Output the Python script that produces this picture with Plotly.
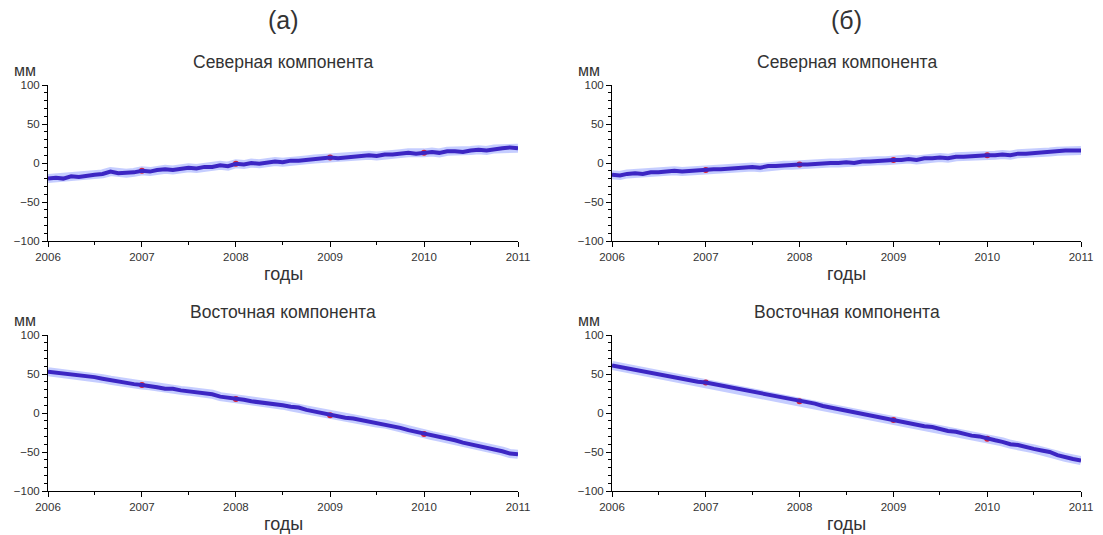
import pandas as pd
import plotly.graph_objects as go

# ---------------- data (monthly readings, mm) ----------------
dates = pd.date_range("2006-01-01", "2011-01-01", freq="MS")

north_a = [-20, -19, -20, -17, -18, -16, -15, -14, -11, -13, -13, -12,
           -10, -11, -9, -8, -9, -7, -6, -7, -5, -5, -3, -4,
           -1, -2, 0, -1, 1, 2, 1, 3, 3, 4, 5, 6,
           7, 6, 7, 8, 9, 10, 9, 11, 11, 12, 13, 12,
           13, 14, 13, 15, 15, 14, 16, 17, 16, 18, 19, 20,
           19]
north_b = [-15, -16, -14, -13, -14, -12, -12, -11, -10, -11, -10, -9,
           -9, -8, -8, -7, -6, -6, -5, -6, -4, -4, -3, -3,
           -2, -2, -1, -1, 0, 0, 1, 0, 2, 2, 3, 3,
           4, 4, 5, 4, 6, 6, 7, 6, 8, 8, 9, 9,
           10, 10, 11, 10, 12, 12, 13, 14, 14, 15, 16, 16,
           16]
east_a = [53, 52, 51, 50, 48, 47, 46, 44, 42, 40, 39, 37,
          36, 35, 33, 31, 31, 29, 28, 27, 25, 24, 21, 20,
          18, 17, 15, 14, 13, 11, 10, 8, 7, 4, 2, 0,
          -3, -4, -6, -7, -9, -11, -13, -14, -17, -19, -22, -24,
          -27, -29, -31, -33, -35, -38, -40, -42, -45, -47, -49, -52,
          -53]
east_b = [61, 59, 58, 55, 53, 52, 49, 47, 46, 43, 41, 40,
          39, 37, 35, 34, 31, 29, 28, 25, 23, 22, 19, 17,
          15, 13, 12, 9, 7, 6, 3, 1, 0, -3, -5, -6,
          -9, -11, -12, -15, -17, -18, -21, -23, -24, -27, -29, -30,
          -33, -35, -37, -40, -41, -44, -46, -48, -50, -54, -57, -59,
          -61]

panel_titles = ["(а)", "(б)"]
comp_titles = ["Северная компонента", "Восточная компонента"]
x_label = "годы"
y_label = "мм"

W, H = 1103, 535
FONT = "Liberation Sans, Arial, sans-serif"
TXT = "#333333"

fig = go.Figure()

# panel pixel boxes: (x0, x1, ytop, ybottom)
panels = [
    (north_a, 48, 518, 85, 241),
    (north_b, 612, 1081, 85, 241),
    (east_a, 48, 518, 335, 491),
    (east_b, 612, 1081, 335, 491),
]

year_idx = [12, 24, 36, 48]

for i, (vals, x0, x1, yt, yb) in enumerate(panels):
    n = i + 1
    xa = "x" if n == 1 else f"x{n}"
    ya = "y" if n == 1 else f"y{n}"
    # halo
    fig.add_trace(go.Scatter(x=dates, y=vals, mode="lines", xaxis=xa, yaxis=ya,
                             line=dict(color="rgba(110,130,255,0.40)", width=9),
                             hoverinfo="skip", showlegend=False))
    # red model segments at year boundaries
    fig.add_trace(go.Scatter(x=[dates[k] for k in year_idx], y=[vals[k] for k in year_idx],
                             mode="markers", xaxis=xa, yaxis=ya,
                             marker=dict(color="rgb(225,35,45)", size=6),
                             showlegend=False))
    # main series
    fig.add_trace(go.Scatter(x=dates, y=vals, mode="lines", xaxis=xa, yaxis=ya,
                             line=dict(color="rgb(60,38,195)", width=4),
                             showlegend=False))
    xkey = "xaxis" if n == 1 else f"xaxis{n}"
    ykey = "yaxis" if n == 1 else f"yaxis{n}"
    fig.layout[xkey] = dict(
        domain=[x0 / W, x1 / W], anchor=ya, automargin=False,
        range=["2006-01-01", "2011-01-01"], type="date",
        dtick="M12", tick0="2006-01-01", tickformat="%Y",
        showline=True, linecolor="black", linewidth=1,
        ticks="outside", ticklen=5, tickcolor="black",
        minor=dict(dtick="M6", ticks="outside", ticklen=3, tickcolor="black"),
        showgrid=False, zeroline=False,
        tickfont=dict(family=FONT, size=11.5, color=TXT),
    )
    fig.layout[ykey] = dict(
        domain=[1 - yb / H, 1 - yt / H], anchor=xa, automargin=False,
        range=[-100, 100], dtick=50, tick0=0,
        showline=True, linecolor="black", linewidth=1,
        ticks="outside", ticklen=5, tickcolor="black",
        minor=dict(dtick=10, ticks="outside", ticklen=3, tickcolor="black"),
        showgrid=False, zeroline=False,
        tickfont=dict(family=FONT, size=11.5, color=TXT),
    )

annotations = []
for col, (x0, x1) in enumerate([(48, 518), (612, 1081)]):
    cx = (x0 + x1) / 2 / W
    annotations.append(dict(x=cx, y=1 - 20 / H, text=panel_titles[col], showarrow=False,
                            xref="paper", yref="paper", xanchor="center", yanchor="middle",
                            font=dict(family=FONT, size=25, color=TXT)))
    for row, (yt, yb) in enumerate([(85, 241), (335, 491)]):
        annotations.append(dict(x=cx, y=1 - (yt - 23) / H, text=comp_titles[row], showarrow=False,
                                xref="paper", yref="paper", xanchor="center", yanchor="middle",
                                font=dict(family=FONT, size=17.5, color=TXT)))
        annotations.append(dict(x=(x0 - 23) / W, y=1 - (yt - 15) / H, text=y_label, showarrow=False,
                                xref="paper", yref="paper", xanchor="center", yanchor="middle",
                                font=dict(family=FONT, size=16, color=TXT)))
        annotations.append(dict(x=cx, y=1 - (yb + 33) / H, text=x_label, showarrow=False,
                                xref="paper", yref="paper", xanchor="center", yanchor="middle",
                                font=dict(family=FONT, size=18, color=TXT)))

fig.update_layout(width=W, height=H, margin=dict(l=0, r=0, t=0, b=0),
                  paper_bgcolor="white", plot_bgcolor="white",
                  annotations=annotations, showlegend=False)

fig.write_html("out.html")
